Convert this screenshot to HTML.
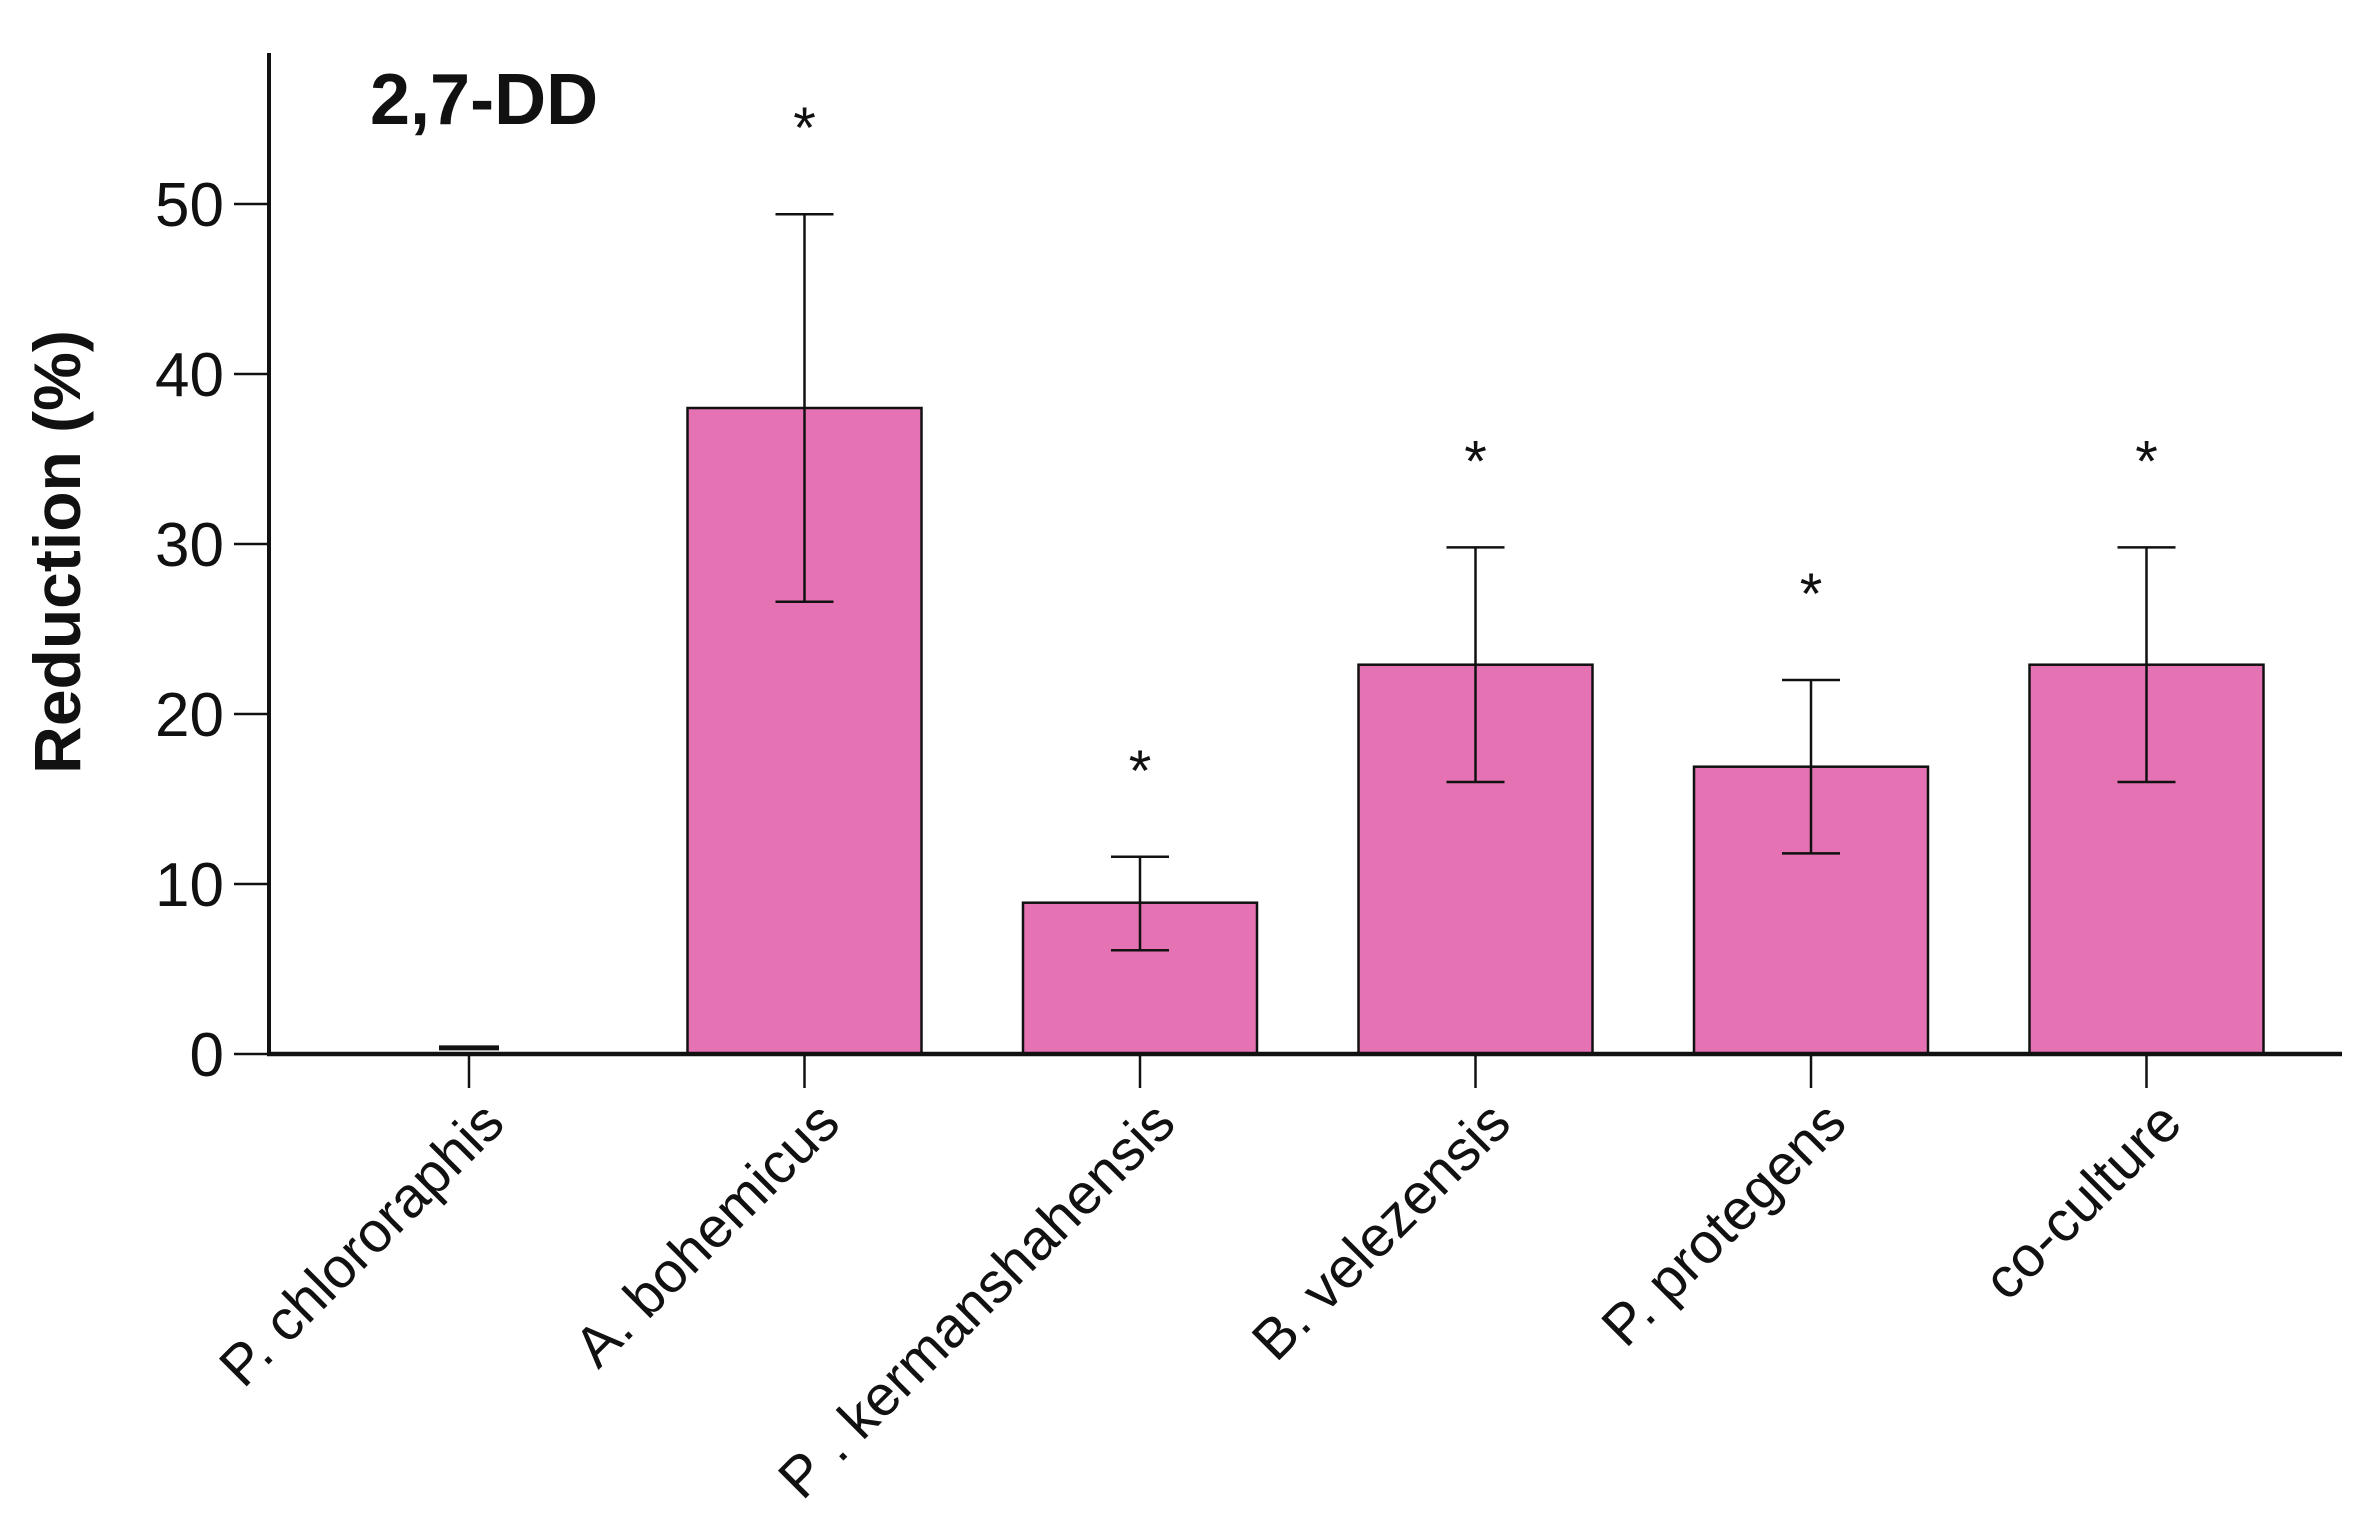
<!DOCTYPE html>
<html><head><meta charset="utf-8"><style>
html,body{margin:0;padding:0;background:#fff;}
svg{display:block;font-family:"Liberation Sans",Arial,sans-serif;}
</style></head><body>
<svg id="chart" width="2372" height="1525" viewBox="0 0 2372 1525">
<rect x="0" y="0" width="2372" height="1525" fill="#fff"/>
<g id="plot"></g>
</svg>
<script>
const categories = ["P. chlororaphis","A. bohemicus","P . kermanshahensis","B. velezensis","P. protegens","co-culture"];
const values = [0, 38, 8.9, 22.9, 16.9, 22.9];
const errHigh = [0.3, 49.4, 11.6, 29.8, 22.0, 29.8];
const errLow = [0, 26.6, 6.1, 16.0, 11.8, 16.0];
const significant = [false, true, true, true, true, true];
const yTicks = [0, 10, 20, 30, 40, 50];

const NS = "http://www.w3.org/2000/svg";
const g = document.getElementById("plot");
const y0 = 1054, pxPerUnit = 17.0;
const yScale = v => y0 - v * pxPerUnit;
const x0 = 469, step = 335.5;
const xScale = i => x0 + i * step;
const barW = 234;

function mk(tag, attrs, parent) {
  const e = document.createElementNS(NS, tag);
  for (const k in attrs) e.setAttribute(k, attrs[k]);
  (parent || g).appendChild(e);
  return e;
}

categories.forEach((c, i) => {
  const cx = xScale(i);
  const top = yScale(values[i]);
  if (values[i] > 0) {
    const r = mk("rect", {x: cx - barW/2, y: top, width: barW, height: y0 - top, fill: "#e573b3", stroke: "#111", "stroke-width": 2.5});
    
    
  }
  const eg = mk("g", {stroke: "#111", "stroke-width": 2.5});
  
  
  if (errHigh[i] - errLow[i] > 0.5) {
    mk("line", {x1: cx, x2: cx, y1: yScale(errHigh[i]), y2: yScale(errLow[i])}, eg);
    mk("line", {x1: cx - 29, x2: cx + 29, y1: yScale(errLow[i]), y2: yScale(errLow[i])}, eg);
    mk("line", {x1: cx - 29, x2: cx + 29, y1: yScale(errHigh[i]), y2: yScale(errHigh[i])}, eg);
  } else {
    mk("line", {x1: cx - 30, x2: cx + 30, y1: yScale(errHigh[i]) - 1, y2: yScale(errHigh[i]) - 1, "stroke-width": 5}, eg);
  }
  if (significant[i]) {
    const s = mk("text", {x: cx, y: yScale(errHigh[i]) - 66, "text-anchor": "middle", "font-size": 58, fill: "#111"});
    s.textContent = "*";
    
    
  }
  const t = mk("line", {x1: cx, x2: cx, y1: y0, y2: y0 + 34, stroke: "#111", "stroke-width": 2.5});
  
  
  const lx = cx + 38, ly = y0 + 72;
  const l = mk("text", {x: lx, y: ly, "text-anchor": "end", "font-size": 57, fill: "#111", transform: "rotate(-45 " + lx + " " + ly + ")"});
  l.textContent = c;
  
  
});

const ya = mk("line", {x1: 269, x2: 269, y1: 53, y2: y0 + 2, stroke: "#111", "stroke-width": 4});


const xa = mk("line", {x1: 267, x2: 2342, y1: y0, y2: y0, stroke: "#111", "stroke-width": 4.5});



yTicks.forEach(v => {
  const y = yScale(v);
  const tk = mk("line", {x1: 234, x2: 269, y1: y, y2: y, stroke: "#111", "stroke-width": 2.5});
  
  
  const tl = mk("text", {x: 224, y: y + 22, "text-anchor": "end", "font-size": 62, fill: "#111"});
  tl.textContent = v;
  
  
});

const yt = mk("text", {x: 0, y: 0, "text-anchor": "middle", "font-size": 66, "font-weight": "bold", fill: "#111", transform: "translate(80 552) rotate(-90)"});
yt.textContent = "Reduction (%)";



const title = mk("text", {x: 370, y: 124, "font-size": 72, "font-weight": "bold", fill: "#111"});
title.textContent = "2,7-DD";


</script>
</body></html>
